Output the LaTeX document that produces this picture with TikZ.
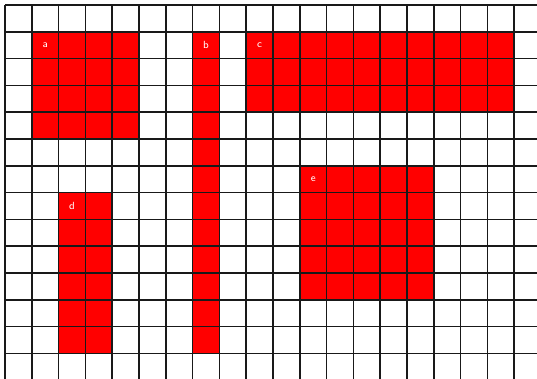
\documentclass[tikz,border=0pt]{standalone}
\usetikzlibrary{positioning}

\tikzset{
    block/.style={fill=red},
    gridline/.style={line width=0.8pt,black!90},
    tag/.style={font=\fontsize{5.5}{6}\selectfont\sffamily,text=white,inner sep=0pt}
}

\begin{document}
\begin{tikzpicture}[x=0.5cm,y=0.5cm]
    \useasboundingbox (-0.1866,0.1866) rectangle (19.851,-13.955);
    \clip (-0.1866,0.1866) rectangle (19.851,-13.955);
    % red blocks
    \fill[block] (1,-1) rectangle (5,-5);
    \fill[block] (7,-1) rectangle (8,-13);
    \fill[block] (9,-1) rectangle (19,-4);
    \fill[block] (2,-7) rectangle (4,-13);
    \fill[block] (11,-6) rectangle (16,-11);
    % grid
    \foreach \i in {0,...,20}
        \draw[gridline] (\i,0) -- (\i,-14);
    \foreach \j in {0,...,14}
        \draw[gridline] (0,-\j) -- (20,-\j);
    % labels
    \node[tag] (a) at (1.5,-1.5) {a};
    \node[tag] (b) at (7.5,-1.5) {b};
    \node[tag] (c) at (9.5,-1.5) {c};
    \node[tag] (d) at (2.5,-7.5) {d};
    \node[tag] (e) at (11.5,-6.5) {e};
\end{tikzpicture}
\end{document}
